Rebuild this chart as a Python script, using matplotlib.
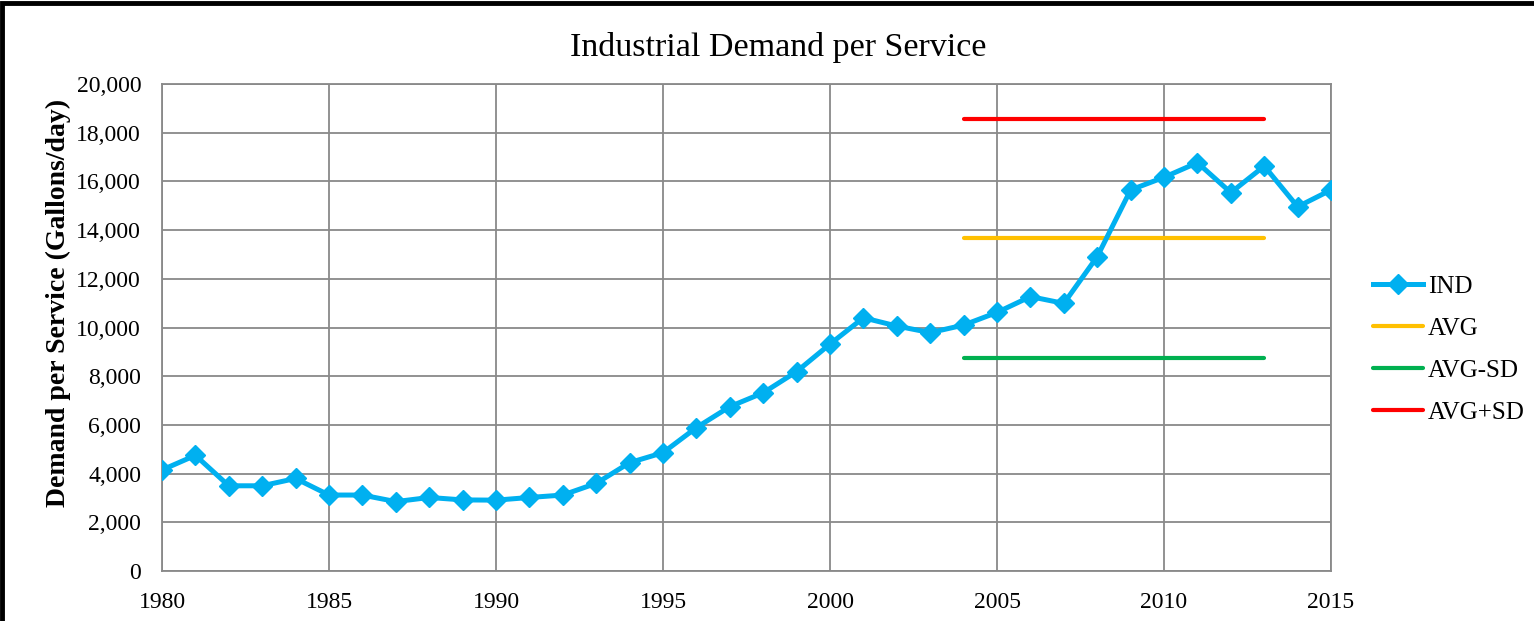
import numpy as np
import matplotlib
matplotlib.use("Agg")
import matplotlib.pyplot as plt
from matplotlib.patches import Rectangle
from matplotlib.ticker import FuncFormatter

years = list(range(1980, 2016))
ind = [4150, 4750, 3500, 3500, 3800, 3120, 3120, 2850, 3020, 2920,
       2910, 3020, 3120, 3600, 4450, 4860, 5890, 6750, 7320, 8190,
       9320, 10400, 10060, 9790, 10100, 10620, 11270, 10990, 12910, 15650,
       16170, 16770, 15540, 16630, 14960, 15650]
ref_years = [2004, 2013]
avg = 13665
sd = 4900

plt.rcParams['font.family'] = ['Liberation Serif', 'DejaVu Serif']

fig = plt.figure(figsize=(15.34, 6.21), dpi=100)
ax = fig.add_axes([0.1056, 0.0805, 0.7621, 0.7842])

ax.plot(years, ind, color='#00B0F0', lw=3.6, marker='D', ms=10.5,
        label='IND', zorder=5)
ax.plot(ref_years, [avg, avg], color='#FFC000', lw=3,
        solid_capstyle='round', label='AVG', zorder=4)
ax.plot(ref_years, [avg - sd, avg - sd], color='#00B050', lw=3,
        solid_capstyle='round', label='AVG-SD', zorder=4)
ax.plot(ref_years, [avg + sd, avg + sd], color='#FF0000', lw=3,
        solid_capstyle='round', label='AVG+SD', zorder=4)

ax.set_xlim(1980, 2015)
ax.set_ylim(0, 20000)
ax.set_xticks(range(1980, 2016, 5))
ax.set_yticks(range(0, 20001, 2000))
ax.yaxis.set_major_formatter(FuncFormatter(lambda v, p: f"{int(v):,}"))
ax.tick_params(length=0, labelsize=17)
ax.tick_params(axis='x', pad=15)
ax.tick_params(axis='y', pad=15)
ax.grid(True, color='#898989', lw=1.3)
ax.set_axisbelow(True)
for s in ax.spines.values():
    s.set_color('#898989')
    s.set_linewidth(1.3)

ax.set_ylabel('Demand per Service (Gallons/day)', fontsize=20,
              fontweight='bold')
ax.yaxis.set_label_coords(-0.078, 0.551)
fig.text(0.507, 0.924, 'Industrial Demand per Service', fontsize=24.5,
         ha='center', va='center')

leg = ax.legend(loc='center left', bbox_to_anchor=(1.036, 0.454),
                frameon=False, fontsize=18, handlelength=2.0,
                handletextpad=0.2, labelspacing=0.78, borderpad=0,
                borderaxespad=0)

fig.patches.append(Rectangle((0.001, -0.05), 1.1, 1.045,
                             transform=fig.transFigure, fill=False,
                             edgecolor='black', lw=3.5))

fig.savefig('out.png', dpi=100)
